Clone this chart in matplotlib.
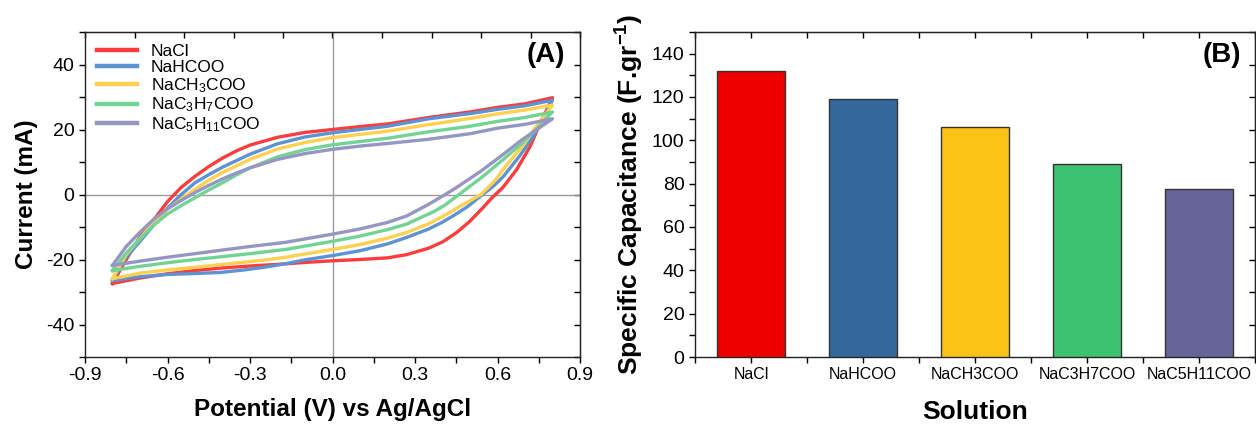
import numpy as np
import matplotlib
matplotlib.use("Agg")
from matplotlib import pyplot as plt
from matplotlib.ticker import MultipleLocator

plt.rcParams['font.family'] = ['Liberation Sans', 'DejaVu Sans']
plt.rcParams['mathtext.default'] = 'regular'
plt.rcParams['axes.unicode_minus'] = False

# --- panel A: CV loops (anodic branch -0.8 -> 0.8, then cathodic back) ---
names = ['NaCl', 'NaHCOO', 'NaCH$_3$COO', 'NaC$_3$H$_7$COO', 'NaC$_5$H$_{11}$COO']
cv_colors = ['#FA3C3C', '#5B93D3', '#FDD04E', '#72D494', '#9696C4']

v_up = [-0.80, -0.75, -0.70, -0.65, -0.60, -0.55, -0.50, -0.45, -0.40, -0.35,
        -0.30, -0.20, -0.10, 0.0, 0.10, 0.20, 0.35, 0.50, 0.60, 0.70, 0.80]

nacl_up = [-27.4, -20.0, -13.0, -7.8, -2.2, 2.2, 5.6, 8.6, 11.2, 13.4,
           15.2, 17.6, 19.1, 20.0, 20.9, 21.7, 23.7, 25.4, 26.8, 27.9, 29.8]
nacl_v_dn = [0.80, 0.77, 0.75, 0.72, 0.67, 0.62, 0.58, 0.55, 0.50, 0.45, 0.40,
             0.35, 0.27, 0.20, 0.10, 0.0, -0.10, -0.20, -0.30, -0.40, -0.50,
             -0.60, -0.70, -0.80]
nacl_dn = [29.8, 24.5, 21.0, 15.0, 7.7, 2.2, -1.0, -3.8, -8.2, -11.8, -14.6,
           -16.5, -18.5, -19.5, -20.0, -20.4, -20.9, -21.5, -22.0, -22.6, -23.4,
           -24.4, -25.7, -27.4]

hcoo_up = [-26.5, -19.3, -14.4, -9.4, -4.2, 0.0, 3.6, 6.1, 8.4, 10.4,
           12.4, 15.6, 17.7, 19.0, 20.0, 21.0, 23.3, 24.9, 26.2, 27.3, 29.0]
hcoo_v_dn = [0.80, 0.77, 0.73, 0.68, 0.62, 0.58, 0.54, 0.49, 0.44, 0.40, 0.35,
             0.27, 0.20, 0.10, 0.0, -0.10, -0.17, -0.25, -0.32, -0.41, -0.50,
             -0.60, -0.70, -0.80]
hcoo_dn = [29.0, 24.0, 17.9, 11.8, 5.4, 2.2, -0.4, -3.8, -6.5, -8.5, -10.6,
           -13.2, -15.2, -17.3, -18.8, -20.1, -21.3, -22.4, -23.2, -24.0, -24.3,
           -24.6, -25.3, -26.5]

ch3_up = [-25.9, -18.5, -13.5, -8.5, -4.5, -1.4, 1.6, 4.4, 6.8, 8.8,
          10.8, 14.0, 16.0, 17.5, 18.5, 19.5, 21.5, 23.4, 24.8, 26.0, 27.5]
ch3_v_dn = [0.80, 0.74, 0.69, 0.63, 0.59, 0.54, 0.46, 0.43, 0.35, 0.27, 0.20,
            0.10, 0.0, -0.17, -0.25, -0.40, -0.50, -0.60, -0.70, -0.80]
ch3_dn = [27.5, 20.9, 14.8, 8.7, 4.2, 0.0, -3.8, -5.4, -9.0, -11.7, -13.4,
          -15.4, -16.9, -19.3, -20.2, -21.5, -22.4, -23.2, -24.2, -25.9]

c3_up = [-23.4, -18.0, -13.6, -9.4, -6.0, -3.4, -1.0, 1.4, 3.6, 6.0,
         8.2, 11.6, 13.8, 15.3, 16.3, 17.3, 19.3, 21.0, 22.5, 23.7, 25.4]
c3_v_dn = [0.80, 0.75, 0.69, 0.62, 0.54, 0.46, 0.41, 0.37, 0.27, 0.20, 0.10,
           0.0, -0.17, -0.30, -0.41, -0.50, -0.60, -0.70, -0.80]
c3_dn = [25.4, 20.9, 15.8, 10.7, 5.1, 0.0, -3.2, -5.2, -9.1, -10.8, -12.8,
         -14.4, -16.9, -18.2, -19.2, -20.0, -21.0, -22.1, -23.4]

c5_up = [-21.8, -16.0, -11.6, -7.6, -4.4, -1.8, 0.6, 2.8, 4.8, 6.6,
         8.2, 10.8, 12.6, 13.9, 14.9, 15.7, 17.0, 18.7, 20.4, 21.6, 23.3]
c5_v_dn = [0.80, 0.75, 0.69, 0.62, 0.54, 0.45, 0.41, 0.35, 0.27, 0.20, 0.10,
           0.0, -0.17, -0.30, -0.41, -0.50, -0.60, -0.70, -0.80]
c5_dn = [23.3, 20.4, 16.9, 12.3, 7.2, 2.1, 0.0, -3.0, -6.6, -8.6, -10.6,
         -12.2, -14.7, -16.0, -17.2, -18.2, -19.3, -20.5, -21.8]

cv_data = [(nacl_up, nacl_v_dn, nacl_dn), (hcoo_up, hcoo_v_dn, hcoo_dn),
           (ch3_up, ch3_v_dn, ch3_dn), (c3_up, c3_v_dn, c3_dn),
           (c5_up, c5_v_dn, c5_dn)]

x_ticks = [-0.9, -0.6, -0.3, 0.0, 0.3, 0.6, 0.9]
x_ticklabels = ['-0.9', '-0.6', '-0.3', '0.0', '0.3', '0.6', '0.9']

# --- panel B: specific capacitance ---
solutions = ['NaCl', 'NaHCOO', 'NaCH3COO', 'NaC3H7COO', 'NaC5H11COO']
capacitance = [132, 119, 106, 89, 77.5]
bar_colors = ['#EE0000', '#35689A', '#FCC317', '#3CC270', '#676598']

fig = plt.figure(figsize=(12.56, 4.28), dpi=100)
axA = fig.add_axes([85/1256, 71/428, 495/1256, 325/428])
axB = fig.add_axes([695/1256, 71/428, 560/1256, 325/428])

for ax in (axA, axB):
    for s in ax.spines.values():
        s.set_linewidth(1.0)
        s.set_color('#222222')

axA.axhline(0, color='#9a9a9a', lw=1.0, zorder=1)
axA.axvline(0, color='#9a9a9a', lw=1.0, zorder=1)
for name, col, (up, vdn, dn) in zip(names, cv_colors, cv_data):
    v = list(v_up) + list(vdn[1:])
    i = list(up) + list(dn[1:])
    axA.plot(v, i, color=col, lw=2.4, label=name, zorder=3,
             solid_joinstyle='round')

axA.set_xlim(-0.9, 0.9)
axA.set_ylim(-50, 50)
axA.set_xticks(x_ticks)
axA.set_xticklabels(x_ticklabels)
axA.xaxis.set_minor_locator(MultipleLocator(0.15))
axA.set_yticks([-40, -20, 0, 20, 40])
axA.yaxis.set_minor_locator(MultipleLocator(10))
axA.tick_params(which='major', direction='out', length=4, width=1, labelsize=14,
                top=False, right=False)
axA.tick_params(which='minor', direction='out', length=4, width=1, top=False, right=False)
axA.set_xlabel('Potential (V) vs Ag/AgCl', fontsize=17.5, fontweight='bold', labelpad=10)
axA.set_ylabel('Current (mA)', fontsize=17.5, fontweight='bold', labelpad=6)

secA_x = axA.secondary_xaxis('top')
secA_x.set_xticks(np.linspace(-0.9, 0.9, 11))
secA_x.tick_params(direction='in', length=4, width=1, labeltop=False)
secA_y = axA.secondary_yaxis('right')
secA_y.set_yticks(np.arange(-50, 51, 10))
secA_y.tick_params(direction='in', length=4, width=1, labelright=False)

leg = axA.legend(loc='upper left', fontsize=12.5, frameon=False, handlelength=2.3,
                 labelspacing=0.05, borderaxespad=0.3, handletextpad=0.8)
for line in leg.get_lines():
    line.set_linewidth(3.2)
axA.text(0.97, 0.93, '(A)', transform=axA.transAxes, ha='right', va='center',
         fontsize=20, fontweight='bold')

# bars
x = np.arange(len(solutions))
axB.bar(x, capacitance, width=0.6, color=bar_colors, edgecolor='#333333',
        linewidth=1.0, zorder=3)
axB.set_xlim(-0.5, 4.5)
axB.set_ylim(0, 150)
axB.set_xticks(x)
axB.set_xticklabels(solutions)
axB.set_xticks(np.arange(-0.5, 4.6, 1.0), minor=True)
axB.yaxis.set_major_locator(MultipleLocator(20))
axB.yaxis.set_minor_locator(MultipleLocator(10))
axB.tick_params(axis='y', which='major', direction='out', length=4, width=1, labelsize=14)
axB.tick_params(axis='y', which='minor', direction='out', length=4, width=1)
axB.tick_params(axis='x', which='both', direction='out', length=4, width=1, labelsize=11.5)
axB.set_xlabel('Solution', fontsize=19, fontweight='bold', labelpad=13)
axB.set_ylabel('Specific Capacitance (F.gr$^{-1}$)', fontsize=19, fontweight='bold', labelpad=4)

secB_x = axB.secondary_xaxis('top')
secB_x.set_xticks(np.arange(-0.5, 4.51, 0.5))
secB_x.tick_params(direction='in', length=4, width=1, labeltop=False)
secB_y = axB.secondary_yaxis('right')
secB_y.set_yticks(np.arange(0, 151, 15))
secB_y.tick_params(direction='in', length=4, width=1, labelright=False)

axB.text(0.975, 0.93, '(B)', transform=axB.transAxes, ha='right', va='center',
         fontsize=20, fontweight='bold')

fig.savefig('out.png', dpi=100)
